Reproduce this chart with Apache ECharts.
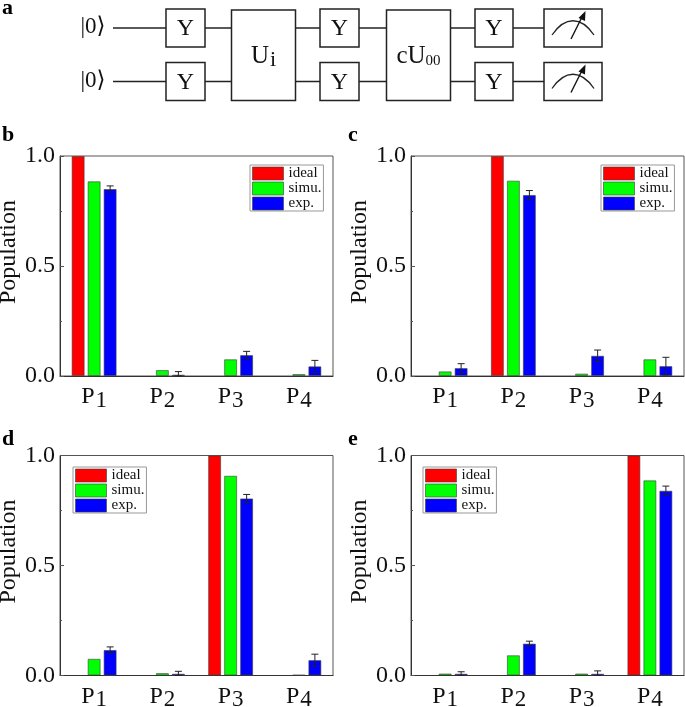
<!DOCTYPE html>
<html>
<head>
<meta charset="utf-8">
<title>Population</title>
<style>
  html, body { margin: 0; background: #fff; }
  #main { width: 685px; height: 707px; }
</style>
</head>
<body>
<div id="main"></div>
<script src="https://cdn.jsdelivr.net/npm/echarts@6/dist/echarts.min.js"></script>
<script>
const categories = ["P1", "P2", "P3", "P4"];
const seriesNames = ["ideal", "simu.", "exp."];
const yTicks = ["0.0", "0.5", "1.0"];

const idealB = [1, 0, 0, 0];
const simuB = [0.885, 0.027, 0.076, 0.009];
const expB = [0.85, 0.006, 0.095, 0.044];
const errB = [0.014, 0.014, 0.017, 0.027];

const idealC = [0, 1, 0, 0];
const simuC = [0.021, 0.888, 0.011, 0.076];
const expC = [0.036, 0.823, 0.092, 0.045];
const errC = [0.02, 0.02, 0.026, 0.04];

const idealD = [0, 0, 1, 0];
const simuD = [0.076, 0.011, 0.908, 0.003];
const expD = [0.116, 0.008, 0.805, 0.07];
const errD = [0.014, 0.011, 0.018, 0.027];

const idealE = [0, 0, 0, 1];
const simuE = [0.009, 0.092, 0.009, 0.887];
const expE = [0.008, 0.145, 0.008, 0.84];
const errE = [0.009, 0.011, 0.013, 0.021];

const FONT = "Liberation Serif";
const colors = ["#ff0000", "#00ff00", "#0000ff"];
const BAR_W = 13;
const BAR_PITCH = 16;

const panels = [
  { letter: "b", left: 60, top: 156, legendLeft: 250, legendTop: 165, ideal: idealB, simu: simuB, exp: expB, err: errB },
  { letter: "c", left: 411, top: 156, legendLeft: 601, legendTop: 165, ideal: idealC, simu: simuC, exp: expC, err: errC },
  { letter: "d", left: 60, top: 455.5, legendLeft: 73, legendTop: 467, ideal: idealD, simu: simuD, exp: expD, err: errD },
  { letter: "e", left: 411, top: 455.5, legendLeft: 423, legendTop: 467, ideal: idealE, simu: simuE, exp: expE, err: errE },
];

let grids = [], xAxes = [], yAxes = [], legends = [], seriesList = [];

panels.forEach(function (p, i) {
  grids.push({
    left: p.left, top: p.top, width: 273, height: 220, outerBoundsMode: "none",
    show: true, borderColor: "#555", borderWidth: 1, backgroundColor: "#fff",
  });
  xAxes.push({
    type: "category", gridIndex: i, data: categories,
    axisLine: { lineStyle: { color: "#333", width: 1 } },
    axisTick: { show: false },
    axisLabel: {
      margin: 6, interval: 0, hideOverlap: false,
      formatter: function (v) { return "{p|" + v[0] + "}{n|" + v.slice(1) + "}"; },
      rich: {
        p: { fontFamily: FONT, fontSize: 24, color: "#111" },
        n: { fontFamily: FONT, fontSize: 23, color: "#111", padding: [7, 0, 0, 1] },
      },
    },
  });
  yAxes.push({
    type: "value", gridIndex: i, min: 0, max: 1, interval: 0.5,
    name: "Population", nameLocation: "middle", nameGap: 38,
    nameTextStyle: { fontFamily: FONT, fontSize: 24, color: "#111", padding: [0, 0, 0, 28] },
    axisLine: { show: true, lineStyle: { color: "#333", width: 1 } },
    axisTick: { show: true, inside: true, length: 4, lineStyle: { color: "#555" } },
    minorTick: { show: true, splitNumber: 2, length: 2, lineStyle: { color: "#555" } },
    splitLine: { show: false },
    axisLabel: {
      margin: 5, fontFamily: FONT, fontSize: 24, color: "#111",
      formatter: function (v) { return yTicks[Math.round(v * 2)]; },
    },
  });
  legends.push({
    data: seriesNames, orient: "vertical", left: p.legendLeft, top: p.legendTop,
    icon: "rect", itemWidth: 31, itemHeight: 13, itemGap: 0, padding: [1, 2, 0, 2],
    borderColor: "#999", borderWidth: 1, backgroundColor: "#fff",
    selectedMode: false, z: 20,
    textStyle: { fontFamily: FONT, fontSize: 15, color: "#111", lineHeight: 13, padding: [0, 0, 0, 0] },
    itemStyle: { borderColor: "rgba(60,60,60,0.6)", borderWidth: 1 },
  });
  [p.ideal, p.simu, p.exp].forEach(function (vals, k) {
    seriesList.push({
      type: "bar", name: seriesNames[k], xAxisIndex: i, yAxisIndex: i,
      // a zero population draws no bar at all
      data: vals.map(function (v) { return v === 0 ? "-" : v; }),
      barWidth: BAR_W, barGap: "23%", animation: false,
      itemStyle: { color: colors[k], borderColor: "rgba(60,60,60,0.6)", borderWidth: 1 },
    });
  });
  // error bars sit on the blue bar, one pitch right of the band centre
  seriesList.push({
    type: "custom", xAxisIndex: i, yAxisIndex: i, z: 5, animation: false,
    encode: { x: 0, y: [1, 2] },
    data: p.exp.map(function (v, n) {
      return [n, Math.max(0, v - p.err[n]), v + p.err[n]];
    }),
    renderItem: function (params, api) {
      const dx = (api.size([1, 0])[0] * BAR_PITCH) / 68.25;
      const lo = api.coord([api.value(0), api.value(1)]);
      const hi = api.coord([api.value(0), api.value(2)]);
      const x = lo[0] + dx;
      const st = { stroke: "#222", lineWidth: 1, fill: null };
      return {
        type: "group",
        children: [
          { type: "line", shape: { x1: x, y1: lo[1], x2: x, y2: hi[1] }, style: st },
          { type: "line", shape: { x1: x - 3.5, y1: hi[1], x2: x + 3.5, y2: hi[1] }, style: st },
          { type: "line", shape: { x1: x - 3.5, y1: lo[1], x2: x + 3.5, y2: lo[1] }, style: st },
        ],
      };
    },
  });
});

// circuit diagram, panel a
const wireY = [28, 81.5];
const boxH = 38;
let gfx = [];
const lineStyle = { stroke: "#222", lineWidth: 1.3, fill: null };
const boxStyle = { stroke: "#222", lineWidth: 1.5, fill: "#fff" };

function addText(x, y, text, size, extra) {
  gfx.push({
    type: "text", x: x, y: y, z: 10,
    style: Object.assign({
      text: text, fontFamily: FONT, fontSize: size, fill: "#111",
      align: "center", verticalAlign: "middle",
    }, extra || {}),
  });
}

function addBox(x1, x2, y1, y2) {
  gfx.push({ type: "rect", z: 5, shape: { x: x1, y: y1, width: x2 - x1, height: y2 - y1 }, style: boxStyle });
}

wireY.forEach(function (y) {
  gfx.push({ type: "line", z: 1, shape: { x1: 113, y1: y, x2: 544, y2: y }, style: lineStyle });
  addText(93, y - 1, "|0\u27E9", 23, { fontFamily: "Liberation Serif, DejaVu Serif" });
  [[166, 205], [320, 359], [475, 513]].forEach(function (b) {
    addBox(b[0], b[1], y - boxH / 2, y + boxH / 2);
    addText((b[0] + b[1]) / 2, y + 1, "Y", 24);
  });
  // meter
  addBox(544, 602, y - boxH / 2, y + boxH / 2);
  gfx.push({
    type: "bezierCurve", z: 6,
    shape: { x1: 552, y1: y + 7, cpx1: 565, cpy1: y - 12, cpx2: 581, cpy2: y - 12, x2: 594, y2: y + 7 },
    style: lineStyle,
  });
  gfx.push({ type: "line", z: 6, shape: { x1: 571, y1: y + 11, x2: 583, y2: y - 13 }, style: { stroke: "#111", lineWidth: 1.4 } });
  gfx.push({
    type: "polygon", z: 6,
    shape: { points: [[585.5, y - 17], [585, y - 7], [578.5, y - 10]] },
    style: { fill: "#111" },
  });
});

addBox(231.5, 295.5, 10, 100.5);
addBox(386.5, 450.5, 10, 100.5);

gfx.push({
    type: "text", x: 263.5, y: 56, z: 10,
    style: {
      text: "{a|U}{b|i}", align: "center", verticalAlign: "middle",
      rich: {
        a: { fontFamily: FONT, fontSize: 25, fill: "#111" },
        b: { fontFamily: FONT, fontSize: 22, fill: "#111", padding: [8, 0, 0, 1] },
      },
    },
});
gfx.push({
    type: "text", x: 418.5, y: 56, z: 10,
    style: {
      text: "{a|cU}{b|00}", align: "center", verticalAlign: "middle",
      rich: {
        a: { fontFamily: FONT, fontSize: 25, fill: "#111" },
        b: { fontFamily: FONT, fontSize: 15, fill: "#111", padding: [10, 0, 0, 0] },
      },
    },
});

// panel letters
const letterPos = [["a", 2, 8], ["b", 2, 135], ["c", 348, 135], ["d", 2, 439], ["e", 348, 439]];
letterPos.forEach(function (l) {
  addText(l[1], l[2], l[0], 22, { fontWeight: "bold", align: "left", fill: "#000" });
});

const chart = echarts.init(document.getElementById("main"), null, { renderer: "canvas" });
chart.setOption({
  animation: false,
  backgroundColor: "#fff",
  textStyle: { fontFamily: FONT },
  grid: grids,
  xAxis: xAxes,
  yAxis: yAxes,
  legend: legends,
  series: seriesList,
  graphic: gfx,
});
</script>
</body>
</html>
